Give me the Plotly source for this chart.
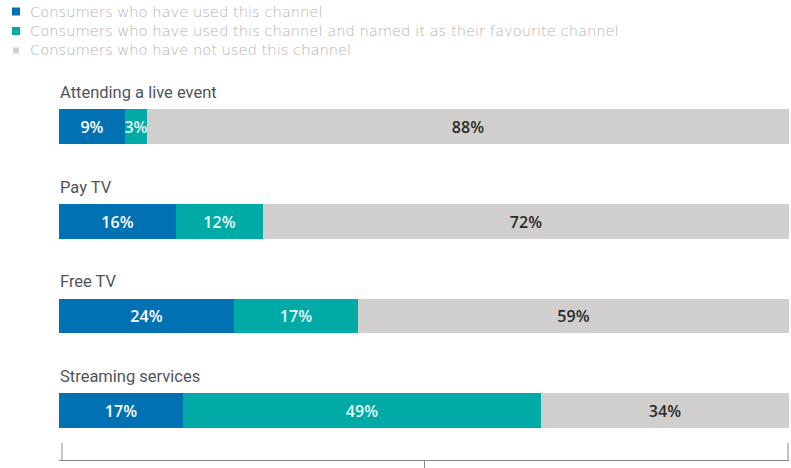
import plotly.graph_objects as go

categories = ["Attending a live event", "Pay TV", "Free TV", "Streaming services"]
used = [9, 16, 24, 17]
favourite = [3, 12, 17, 49]
not_used = [88, 72, 59, 34]
series_names = [
    "Consumers who have used this channel",
    "Consumers who have used this channel and named it as their favourite channel",
    "Consumers who have not used this channel",
]
colors = ["#0071b2", "#00aaa6", "#d0cfcd"]
text_colors = ["#ffffff", "#e8f8f7", "#2a2a2a"]

W, H = 791, 468
ML, MR, MT, MB = 59, 2, 75, 8
PW, PH = W - ML - MR, H - MT - MB


def px_x(p):
    return (p - ML) / PW


def px_y(p):
    return (H - MB - p) / PH


rows = list(range(len(categories)))
fig = go.Figure()
for name, vals, col, tcol in zip(series_names, [used, favourite, not_used], colors, text_colors):
    fig.add_trace(go.Bar(
        x=vals, y=rows, orientation="h", name=name,
        marker=dict(color=col, line=dict(width=0)),
        width=0.37,
        text=[f"{v}%" for v in vals], textposition="inside",
        insidetextanchor="middle", textangle=0, constraintext="none",
        textfont=dict(family="Open Sans", size=16, color=tcol, weight=600),
        hoverinfo="skip", showlegend=False,
    ))

# bracket uprights at both ends of the bottom axis (decoration)
for xe in [px_x(62), px_x(788)]:
    fig.add_shape(type="line", xref="paper", yref="paper", x0=xe, x1=xe,
                  y0=0, y1=17 / PH, line=dict(color="#8a8a8a", width=1))

for i, cat in enumerate(categories):
    fig.add_annotation(
        x=0, y=i - 0.36, xref="x", yref="y", text=cat, showarrow=False,
        xanchor="left", yanchor="middle", xshift=-1,
        font=dict(family="Roboto", size=16.5, color="#4f545c", weight=400),
    )

# legend (swatches + one multi-line text block)
legend_rows_y = [11.5, 31, 50.5]
swatch_size = [8, 8, 6]
for col, yy, s in zip(colors, legend_rows_y, swatch_size):
    fig.add_shape(type="rect", xref="paper", yref="paper",
                  x0=px_x(16 - s / 2), x1=px_x(16 + s / 2),
                  y0=px_y(yy - s / 2), y1=px_y(yy + s / 2),
                  fillcolor=col, line=dict(width=0))
fig.add_annotation(x=px_x(28), y=px_y(1), xref="paper", yref="paper",
                   text="<br>".join(series_names), showarrow=False,
                   xanchor="left", yanchor="top", align="left",
                   font=dict(family="DejaVu Sans", size=14.7, color="#b4b4b4", weight=200))

fig.update_layout(
    width=W, height=H,
    margin=dict(l=ML, r=MR, t=MT, b=MB, autoexpand=False),
    barmode="stack",
    plot_bgcolor="white", paper_bgcolor="white",
    bargap=0,
    showlegend=False,
    xaxis=dict(range=[0, 100], showgrid=False, zeroline=False, showline=True,
               linecolor="#8a8a8a", linewidth=1, ticks="outside", tickvals=[50],
               ticklen=8, tickcolor="#8a8a8a", showticklabels=False, fixedrange=True),
    yaxis=dict(range=[3.524, -0.55], showgrid=False, zeroline=False, showline=False,
               showticklabels=False, ticks=""),
)

fig.write_html("out.html")
